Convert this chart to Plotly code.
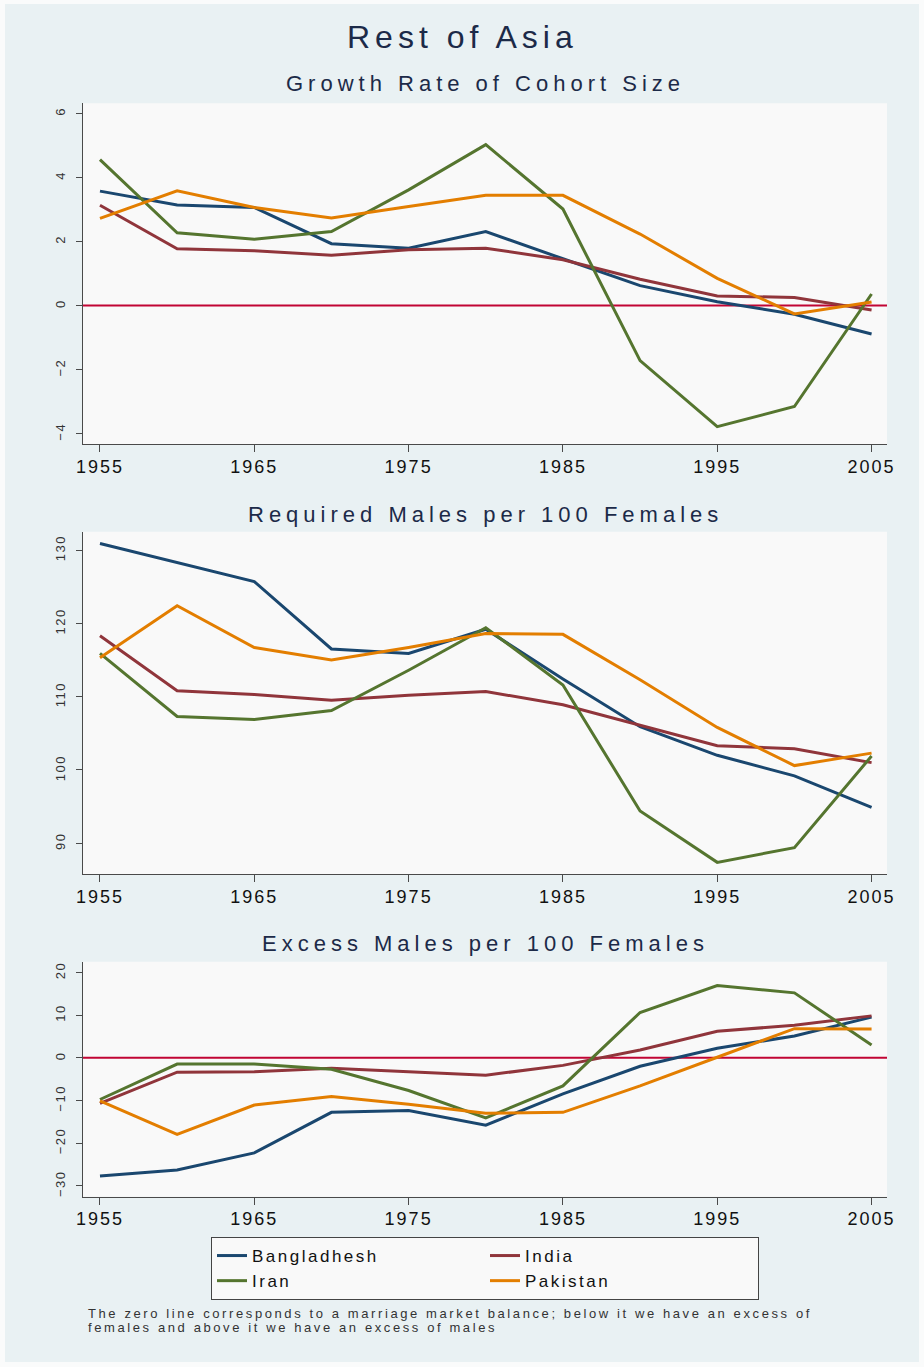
import plotly.graph_objects as go
from plotly.subplots import make_subplots

years = [1955, 1960, 1965, 1970, 1975, 1980, 1985, 1990, 1995, 2000, 2005]
countries = ["Bangladhesh", "India", "Iran", "Pakistan"]
colors = ["#1a476f", "#90353b", "#55752f", "#e37e00"]

growth_bangladesh = [3.57, 3.14, 3.06, 1.93, 1.79, 2.31, 1.46, 0.62, 0.12, -0.27, -0.89]
growth_india = [3.13, 1.77, 1.71, 1.57, 1.74, 1.79, 1.43, 0.82, 0.30, 0.25, -0.14]
growth_iran = [4.55, 2.27, 2.07, 2.31, 3.61, 5.02, 3.01, -1.72, -3.78, -3.15, 0.36]
growth_pakistan = [2.72, 3.58, 3.06, 2.73, 3.09, 3.44, 3.44, 2.23, 0.85, -0.26, 0.11]

required_bangladesh = [130.9, 128.3, 125.7, 116.5, 115.9, 119.2, 112.4, 105.9, 102.0, 99.2, 94.9]
required_india = [118.3, 110.8, 110.3, 109.5, 110.2, 110.7, 108.9, 106.1, 103.3, 102.9, 101.0]
required_iran = [115.9, 107.3, 106.9, 108.1, 113.6, 119.4, 111.6, 94.4, 87.4, 89.4, 101.9]
required_pakistan = [115.3, 122.4, 116.7, 115.0, 116.7, 118.6, 118.5, 112.3, 105.8, 100.6, 102.3]

excess_bangladesh = [-27.7, -26.3, -22.3, -12.8, -12.4, -15.8, -8.5, -2.0, 2.2, 5.1, 9.5]
excess_india = [-10.7, -3.4, -3.3, -2.5, -3.3, -4.1, -1.8, 1.8, 6.2, 7.6, 9.8]
excess_iran = [-9.8, -1.5, -1.5, -2.7, -7.7, -14.1, -6.6, 10.6, 16.9, 15.2, 3.0]
excess_pakistan = [-10.1, -18.0, -11.1, -9.1, -10.9, -13.0, -12.8, -6.6, 0.1, 6.8, 6.7]

main_title = "Rest of Asia"
panel_titles = ["Growth Rate of Cohort Size", "Required Males per 100 Females",
                "Excess Males per 100 Females"]
x_ticks = [1955, 1965, 1975, 1985, 1995, 2005]
y_ticks = [[-4, -2, 0, 2, 4, 6], [90, 100, 110, 120, 130], [-30, -20, -10, 0, 10, 20]]
y_ranges = [[-4.32, 6.31], [85.77, 132.5], [-32.58, 22.5]]
note_lines = ["The zero line corresponds to a marriage market balance; below it we have an excess of",
              "females and above it we have an excess of males"]

panels = [
    [growth_bangladesh, growth_india, growth_iran, growth_pakistan],
    [required_bangladesh, required_india, required_iran, required_pakistan],
    [excess_bangladesh, excess_india, excess_iran, excess_pakistan],
]

FONT = "Liberation Sans, Arial, Helvetica, sans-serif"
W, H = 924, 1367
ML, MR, MT, MB = 83, 37, 103, 170
PW, PH = W - ML - MR, H - MT - MB


def px_x(px):
    return (px - ML) / PW


def px_y(py):
    return (H - MB - py) / PH


domains = [[px_y(444), px_y(103.3)], [px_y(874.3), px_y(531.7)], [px_y(1196.7), px_y(961.7)]]

fig = make_subplots(rows=3, cols=1)

for r, series in enumerate(panels, start=1):
    for name, col, vals in zip(countries, colors, series):
        fig.add_trace(go.Scatter(x=years, y=vals, mode="lines", name=name,
                                 line=dict(color=col, width=3),
                                 showlegend=(r == 1)), row=r, col=1)

shapes = [dict(type="rect", xref="paper", yref="paper",
               x0=px_x(5), x1=px_x(919), y0=px_y(1362), y1=px_y(4),
               fillcolor="#e9f1f3", line=dict(width=0), layer="below")]

for i in range(3):
    xa = "x" if i == 0 else f"x{i+1}"
    ya = "y" if i == 0 else f"y{i+1}"
    fig.layout[("xaxis" if i == 0 else f"xaxis{i+1}")].update(
        domain=[0, 1], range=[1953.9, 2006.0], tickvals=x_ticks,
        showline=True, linecolor="#4a4a4a", linewidth=1, ticks="outside", ticklen=7,
        tickcolor="#4a4a4a", showgrid=False, zeroline=False,
        tickfont=dict(family=FONT, size=18, color="#111111"), ticklabelstandoff=-1)
    fig.layout[("yaxis" if i == 0 else f"yaxis{i+1}")].update(
        domain=domains[i], range=y_ranges[i], tickvals=y_ticks[i], tickangle=-90,
        showline=True, linecolor="#4a4a4a", linewidth=1, ticks="outside", ticklen=6,
        tickcolor="#4a4a4a", showgrid=False, zeroline=False,
        tickfont=dict(family=FONT, size=13, color="#333333"), ticklabelstandoff=6)
    shapes.append(dict(type="rect", xref=f"{xa} domain", yref=f"{ya} domain",
                       x0=0, x1=1, y0=0, y1=1, fillcolor="#f9f9f9",
                       line=dict(width=0), layer="below"))
    if i != 1:
        shapes.append(dict(type="line", xref=f"{xa} domain", yref=ya,
                           x0=0, x1=1, y0=0, y1=0,
                           line=dict(color="#c10534", width=2), layer="below"))

annotations = [dict(text=main_title, xref="paper", yref="paper", x=px_x(462), y=px_y(37),
                    xanchor="center", yanchor="middle", showarrow=False,
                    font=dict(family=FONT, size=32, color="#1c2a48"))]
for t, yy in zip(panel_titles, [84, 514, 943]):
    annotations.append(dict(text=t, xref="paper", yref="paper", x=0.5, y=px_y(yy),
                            xanchor="center", yanchor="middle", showarrow=False,
                            font=dict(family=FONT, size=22, color="#1c2a48")))
for t, yy in zip(note_lines, [1313, 1327]):
    annotations.append(dict(text=t, xref="paper", yref="paper", x=px_x(86), y=px_y(yy),
                            xanchor="left", yanchor="middle", align="left", showarrow=False,
                            font=dict(family=FONT, size=13, color="#333333")))

fig.update_layout(
    width=W, height=H, margin=dict(l=ML, r=MR, t=MT, b=MB),
    paper_bgcolor="#fafbfb", plot_bgcolor="#f9f9f9",
    shapes=shapes, annotations=annotations,
    legend=dict(orientation="h", x=0.5, xanchor="center", y=px_y(1237), yanchor="top",
                entrywidth=228, entrywidthmode="pixels",
                bgcolor="#f9f9f9", bordercolor="#444444", borderwidth=1,
                font=dict(family=FONT, size=17, color="#111111"), traceorder="normal"),
    showlegend=True,
)

spacing = {"x": "2px", "y": "1.5px", "legend": "2.5px",
           "ann": ["5px", "5px", "5px", "5px", "2.6px", "2.6px"]}
post = """
document.body.style.margin = '0';
var gd = document.getElementById('{plot_id}');
function sp(sel, v){ gd.querySelectorAll(sel).forEach(function(t){ t.style.letterSpacing = v; }); }
sp('.xaxislayer-above text', '%s');
sp('.yaxislayer-above text', '%s');
sp('.legendtext', '%s');
var s = %s;
gd.querySelectorAll('.annotation-text').forEach(function(t, i){ t.style.letterSpacing = s[i] || '0px'; });
""" % (spacing["x"], spacing["y"], spacing["legend"], str(spacing["ann"]))

fig.write_html("out.html", post_script=post, config={"displayModeBar": False})
